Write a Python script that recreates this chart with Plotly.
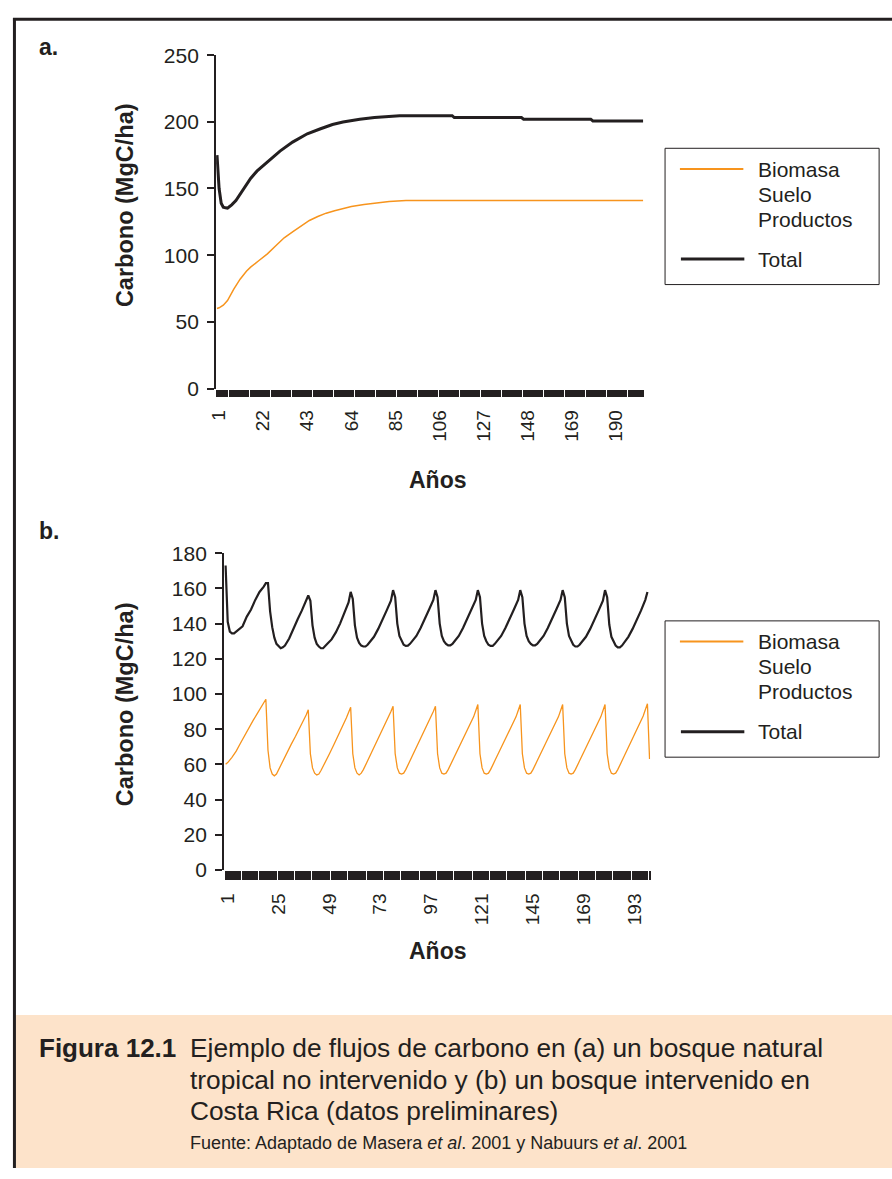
import plotly.graph_objects as go

W, H = 892, 1179
BLACK = "#231f20"
ORANGE = "#f7941d"
PEACH = "#fde3ca"
FONT = "Liberation Sans, Arial, Helvetica, sans-serif"

# ---------------- Data: chart a (bosque natural no intervenido) ----------------
A_TOTAL_YEARS = [0, 1, 2, 3, 4, 5, 6, 7, 9, 11, 13, 16, 19, 24, 30, 36, 43, 49, 55, 60,
                 68, 75, 81, 87, 100, 112, 113, 145, 146, 178, 179, 203]
A_TOTAL = [175, 150, 139, 136, 135.5, 135.3, 136.5, 137.7, 141, 146, 151, 157.5, 163, 169.6,
           178, 184.8, 191, 194.6, 198, 199.8, 202, 203.3, 204, 204.6, 204.6, 204.6, 203.2,
           203.2, 202, 202, 200.7, 200.7]

A_BIO_YEARS = [0, 1, 3, 5, 8, 11, 14, 16, 20, 24, 28, 32, 36, 40, 44, 48, 52, 56, 60, 64,
               70, 76, 82, 90, 100, 203]
A_BIO = [60, 60.5, 62.5, 66, 74.5, 82, 88, 91, 96, 101, 107, 113, 117.5, 122, 126, 129,
         131.5, 133.3, 135, 136.5, 138, 139.3, 140.3, 141, 141, 141]

A_TICKS = [1, 22, 43, 64, 85, 106, 127, 148, 169, 190]
A_YTICKS = [0, 50, 100, 150, 200, 250]

# ---------------- Data: chart b (bosque intervenido) ----------------
B_TOTAL_YEARS = [0, 1, 2, 3, 4, 5, 6, 8, 10, 12, 14, 16, 18, 19, 20,
                 21, 22, 23, 24, 26, 27, 28, 30, 32, 34, 36, 38, 39,
                 40, 41, 42, 43, 44, 45, 46, 47, 48, 50, 52, 54, 56, 58, 59,
                 60, 61, 62, 63, 64, 65, 66, 67, 68, 70, 72, 74, 76, 78, 79,
                 80, 81, 82, 83, 84, 85, 86, 87, 88, 90, 92, 94, 96, 98, 99,
                 100, 101, 102, 103, 104, 105, 106, 107, 108, 110, 112, 114, 116, 118, 119,
                 120, 121, 122, 123, 124, 125, 126, 127, 128, 130, 132, 134, 136, 138, 139,
                 140, 141, 142, 143, 144, 145, 146, 147, 148, 150, 152, 154, 156, 158, 159,
                 160, 161, 162, 163, 164, 165, 166, 167, 168, 170, 172, 174, 176, 178, 179,
                 180, 181, 182, 183, 184, 185, 186, 187, 188, 190, 192, 194, 196, 198, 199]
B_TOTAL = [173, 141, 135.5, 134.5, 134.5, 135.5, 136.5, 138.5, 144, 148, 153.5, 158, 161, 163, 163,
           147, 138, 132, 128.5, 126, 126.5, 127.5, 131.5, 137.5, 142.5, 147.5, 153, 156,
           153, 139, 132, 128.5, 127, 126, 126, 127, 128.5, 131, 135, 140, 146, 152, 158,
           154, 139, 132, 129, 127.5, 127, 127, 128, 129.5, 132.5, 137, 142, 147.5, 153, 159,
           155, 140, 133, 130, 128, 127.3, 127.5, 128.5, 130, 133, 137.5, 142.5, 148, 153.5, 159,
           155, 140, 133, 130, 128.5, 127.6, 127.6, 128.5, 130, 133, 137.5, 142.5, 148, 153.5, 159,
           155, 140, 133, 130, 128, 127.3, 127.3, 128.5, 130, 133, 137.5, 142.5, 148, 153.5, 159,
           155, 140, 133, 130, 128.5, 127.6, 127.6, 128.5, 130, 133, 137.5, 142.5, 148, 153.5, 159,
           155, 140, 133, 130, 128, 127, 127, 128, 129.5, 132.5, 137, 142, 147.5, 153, 159,
           155, 139.5, 132.5, 129.5, 127.5, 126.5, 126.5, 127.5, 129, 132.5, 137, 142, 147.5, 153.5, 158]

B_BIO_YEARS = [0, 1, 3, 5, 7, 9, 11, 13, 15, 17, 19,
               20, 21, 22, 23, 24, 25, 27, 29, 31, 33, 35, 37, 38, 39,
               40, 41, 42, 43, 44, 45, 47, 49, 51, 53, 55, 57, 58, 59,
               60, 61, 62, 63, 64, 65, 67, 69, 71, 73, 75, 77, 78, 79,
               80, 81, 82, 83, 84, 85, 87, 89, 91, 93, 95, 97, 98, 99,
               100, 101, 102, 103, 104, 105, 107, 109, 111, 113, 115, 117, 118, 119,
               120, 121, 122, 123, 124, 125, 127, 129, 131, 133, 135, 137, 138, 139,
               140, 141, 142, 143, 144, 145, 147, 149, 151, 153, 155, 157, 158, 159,
               160, 161, 162, 163, 164, 165, 167, 169, 171, 173, 175, 177, 178, 179,
               180, 181, 182, 183, 184, 185, 187, 189, 191, 193, 195, 197, 198, 199,
               200]
B_BIO = [60, 61, 64, 67.5, 72, 76.5, 81, 85, 89, 93, 97,
         68, 58, 54.5, 53.5, 54.5, 57, 62, 67, 71.5, 76, 80.5, 85.5, 88, 91,
         66, 58, 55, 54, 54.5, 56.5, 61, 66, 71, 76, 81, 86.5, 89.5, 92.5,
         66, 58, 55, 54, 55, 57, 62, 67, 72, 77, 82, 87, 90, 93,
         66, 58, 55, 54.5, 55, 57, 62, 67, 72, 77, 82, 87, 90, 93,
         66, 58, 55, 54.5, 55, 57, 62, 67, 72, 77, 82, 87, 90.5, 94,
         66, 58, 55, 54.5, 55, 57, 62, 67, 72, 77, 82, 87, 90.5, 94,
         66, 58, 55, 54.5, 55, 57, 62, 67, 72, 77, 82, 87, 90.5, 94,
         66, 58, 55, 54.5, 55, 57, 62, 67, 72, 77, 82, 87, 90.5, 94,
         66, 58, 55, 54.5, 55, 57, 62, 67, 72, 77, 82, 87.5, 91, 94.5,
         63]

B_TICKS = [1, 25, 49, 73, 97, 121, 145, 169, 193]
B_YTICKS = [0, 20, 40, 60, 80, 100, 120, 140, 160, 180]

LEGEND_BIO = ["Biomasa", "Suelo", "Productos"]
LEGEND_TOTAL = "Total"
Y_TITLE = "Carbono (MgC/ha)"
X_TITLE = "Años"


def px(x):
    return x / W


def py(y):
    return 1 - y / H


fig = go.Figure()
fig.add_trace(go.Scatter(x=A_BIO_YEARS, y=A_BIO, mode="lines", name="Biomasa",
                         line=dict(color=ORANGE, width=1.5), xaxis="x", yaxis="y",
                         showlegend=False))
fig.add_trace(go.Scatter(x=A_TOTAL_YEARS, y=A_TOTAL, mode="lines", name="Total",
                         line=dict(color=BLACK, width=3), xaxis="x", yaxis="y",
                         showlegend=False))
fig.add_trace(go.Scatter(x=B_BIO_YEARS, y=B_BIO, mode="lines", name="Biomasa",
                         line=dict(color=ORANGE, width=1.3), xaxis="x2", yaxis="y2",
                         showlegend=False))
fig.add_trace(go.Scatter(x=B_TOTAL_YEARS, y=B_TOTAL, mode="lines", name="Total",
                         line=dict(color=BLACK, width=2.2), xaxis="x2", yaxis="y2",
                         showlegend=False))


def xaxis(domain, rng, ticks, ticklen, anchor):
    return dict(domain=domain, range=rng, anchor=anchor, tickmode="array",
                tickvals=ticks, ticktext=[str(t) for t in ticks], tickangle=-90,
                ticks="outside", ticklen=ticklen, tickwidth=1.5, tickcolor=BLACK,
                showline=False, showgrid=False, zeroline=False, ticklabelstandoff=6,
                tickfont=dict(family=FONT, size=19, color=BLACK),
                minor=dict(ticks="outside", ticklen=ticklen, tickwidth=1.5,
                           tickcolor=BLACK, tickmode="linear", tick0=0, dtick=1,
                           showgrid=False))


def yaxis(domain, rng, ticks, anchor):
    return dict(domain=domain, range=rng, anchor=anchor, tickmode="array",
                tickvals=ticks, ticks="outside", ticklen=7, tickwidth=1.5,
                tickcolor=BLACK, showline=True, linewidth=2, linecolor=BLACK,
                showgrid=False, zeroline=False, ticklabelstandoff=4,
                tickfont=dict(family=FONT, size=21, color=BLACK))


shapes = [
    # caption box
    dict(type="rect", xref="paper", yref="paper", x0=px(8), x1=px(892), y0=py(1179), y1=py(1023),
         fillcolor=PEACH, line=dict(width=0), layer="below"),
    # frame (top and left edges)
    dict(type="line", xref="paper", yref="paper", x0=px(5), x1=px(892), y0=py(7.3), y1=py(7.3),
         line=dict(color=BLACK, width=3)),
    dict(type="line", xref="paper", yref="paper", x0=px(6.5), x1=px(6.5), y0=py(6), y1=py(1179),
         line=dict(color=BLACK, width=3)),
]

annotations = []


def ann(text, x, y, size, xanchor="left", bold=False, angle=0, yanchor="middle"):
    if bold:
        text = "<b>" + text + "</b>"
    annotations.append(dict(text=text, x=px(x), y=py(y), xref="paper", yref="paper",
                            xanchor=xanchor, yanchor=yanchor, showarrow=False,
                            textangle=angle,
                            font=dict(family=FONT, size=size, color=BLACK)))


for off in (0, 482):
    shapes.append(dict(type="rect", xref="paper", yref="paper", x0=px(663), x1=px(879),
                       y0=py(139 + off), y1=py(278 + off), line=dict(color=BLACK, width=1)))
    shapes.append(dict(type="line", xref="paper", yref="paper", x0=px(678), x1=px(742),
                       y0=py(160 + off), y1=py(160 + off), line=dict(color=ORANGE, width=2)))
    shapes.append(dict(type="line", xref="paper", yref="paper", x0=px(679), x1=px(743),
                       y0=py(252 + off), y1=py(252 + off), line=dict(color=BLACK, width=3)))
    for i, name in enumerate(LEGEND_BIO):
        ann(name, 755, 160.5 + 25.5 * i + off, 21)
    ann(LEGEND_TOTAL, 755, 252 + off, 21)

# panel labels and axis titles
ann("a.", 29, 36, 23, bold=True)
ann("b.", 29, 529, 23, bold=True)
ann(Y_TITLE, 118, 197, 23.5, xanchor="center", bold=True, angle=-90)
ann(Y_TITLE, 118, 706, 23.5, xanchor="center", bold=True, angle=-90)
ann(X_TITLE, 434, 477, 23, xanchor="center", bold=True)
ann(X_TITLE, 434, 958, 23, xanchor="center", bold=True)

# caption
ann("Figura 12.1", 29, 1057, 26, bold=True)
ann("Ejemplo de flujos de carbono en (a) un bosque natural", 182, 1057, 26.3)
ann("tropical no intervenido y (b) un bosque intervenido en", 182, 1089, 26.3)
ann("Costa Rica (datos preliminares)", 182, 1121, 26.3)
ann("Fuente: Adaptado de Masera <i>et al</i>. 2001 y Nabuurs <i>et al</i>. 2001", 182, 1153, 18)

fig.update_layout(
    width=W, height=H,
    margin=dict(l=0, r=0, t=0, b=0),
    paper_bgcolor="white", plot_bgcolor="white",
    showlegend=False,
    xaxis=xaxis([px(210), px(641)], [-0.42, 203.0], A_TICKS, 7, "y"),
    yaxis=yaxis([py(384), py(44)], [0, 250], A_YTICKS, "x"),
    xaxis2=xaxis([px(218), px(648)], [-0.73, 200.3], B_TICKS, 9, "y2"),
    yaxis2=yaxis([py(875), py(552)], [0, 180], B_YTICKS, "x2"),
    shapes=shapes,
    annotations=annotations,
)

POST = (
    "var d=document.getElementById('{plot_id}');"
    "d.style.position='fixed';d.style.top='0px';d.style.left='0px';"
    "document.documentElement.style.margin='0';document.documentElement.style.padding='0';"
    "document.body.style.margin='0';document.body.style.padding='0';"
    "document.documentElement.style.overflow='hidden';document.body.style.overflow='hidden';"
)

fig.write_html(
    "out.html",
    default_width="892px",
    default_height="1179px",
    config={"displayModeBar": False},
    post_script=POST,
)
